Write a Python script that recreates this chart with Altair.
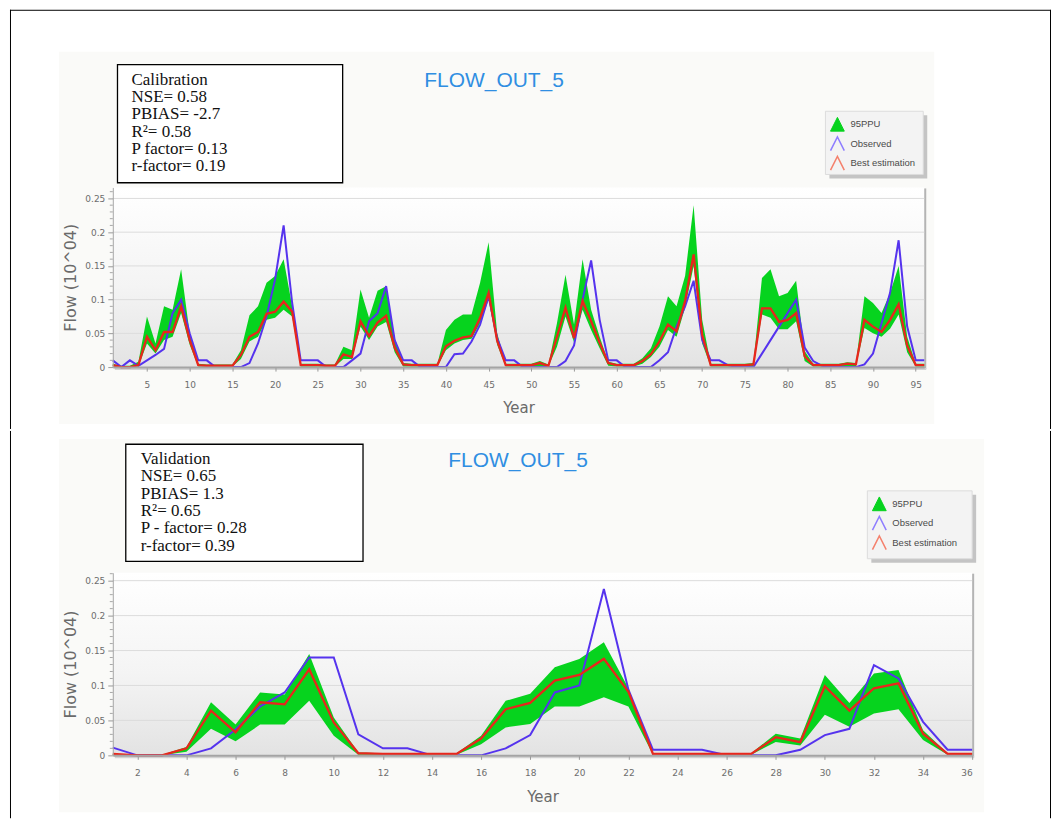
import altair as alt
import pandas as pd

# ---------------- data ----------------
cal_year = list(range(1, 97))
cal_observed = [0.01, 0.0, 0.01, 0.002, 0.01, 0.018, 0.027, 0.08, 0.1, 0.05,
                0.01, 0.01, 0.0, 0.0, 0.0, 0.0, 0.006, 0.035, 0.075, 0.13,
                0.21, 0.095, 0.01, 0.01, 0.01, 0.0, 0.0, 0.0, 0.01, 0.02,
                0.068, 0.08, 0.12, 0.04, 0.01, 0.01, 0.0, 0.0, 0.0, 0.0,
                0.019, 0.02, 0.038, 0.063, 0.105, 0.043, 0.01, 0.01, 0.0, 0.0,
                0.0, 0.0, 0.0, 0.009, 0.032, 0.1, 0.158, 0.07, 0.01, 0.01,
                0.0, 0.0, 0.0, 0.0, 0.01, 0.022, 0.06, 0.09, 0.128, 0.04,
                0.01, 0.01, 0.003, 0.0, 0.0, 0.0, 0.02, 0.04, 0.06, 0.08,
                0.1, 0.029, 0.009, 0.002, 0.0, 0.0, 0.0, 0.0, 0.004, 0.02,
                0.065, 0.11, 0.188, 0.06, 0.01, 0.01]
cal_best = [0.003, 0.0, 0.0, 0.003, 0.045, 0.025, 0.052, 0.052, 0.09, 0.04,
            0.003, 0.002, 0.002, 0.002, 0.002, 0.018, 0.045, 0.052, 0.079, 0.082,
            0.097, 0.082, 0.003, 0.003, 0.003, 0.002, 0.002, 0.019, 0.015, 0.068,
            0.046, 0.066, 0.076, 0.029, 0.004, 0.003, 0.003, 0.003, 0.003, 0.031,
            0.039, 0.044, 0.046, 0.073, 0.11, 0.039, 0.003, 0.003, 0.003, 0.003,
            0.006, 0.002, 0.045, 0.088, 0.043, 0.098, 0.068, 0.036, 0.006, 0.003,
            0.003, 0.003, 0.009, 0.019, 0.038, 0.063, 0.053, 0.098, 0.167, 0.048,
            0.003, 0.003, 0.003, 0.003, 0.003, 0.004, 0.087, 0.087, 0.067, 0.07,
            0.08, 0.016, 0.003, 0.003, 0.003, 0.003, 0.005, 0.004, 0.07, 0.06,
            0.052, 0.07, 0.093, 0.032, 0.003, 0.003]
cal_upper = [0.005, 0.002, 0.002, 0.008, 0.075, 0.035, 0.09, 0.085, 0.145, 0.05,
             0.005, 0.004, 0.004, 0.004, 0.004, 0.025, 0.077, 0.09, 0.125, 0.135,
             0.16, 0.09, 0.005, 0.005, 0.005, 0.004, 0.004, 0.03, 0.025, 0.115,
             0.073, 0.113, 0.12, 0.043, 0.006, 0.005, 0.005, 0.005, 0.005, 0.055,
             0.07, 0.078, 0.078, 0.125, 0.185, 0.05, 0.005, 0.005, 0.005, 0.005,
             0.009, 0.004, 0.065, 0.137, 0.063, 0.16, 0.085, 0.045, 0.008, 0.005,
             0.005, 0.005, 0.013, 0.028, 0.06, 0.105, 0.09, 0.135, 0.24, 0.07,
             0.005, 0.005, 0.005, 0.005, 0.005, 0.006, 0.132, 0.145, 0.105, 0.11,
             0.128, 0.024, 0.005, 0.005, 0.005, 0.005, 0.007, 0.006, 0.105, 0.095,
             0.08, 0.11, 0.15, 0.045, 0.005, 0.005]
cal_lower = [0.001, 0.0, 0.0, 0.001, 0.035, 0.02, 0.04, 0.045, 0.08, 0.033,
             0.001, 0.001, 0.001, 0.001, 0.001, 0.012, 0.038, 0.045, 0.07, 0.073,
             0.085, 0.075, 0.001, 0.001, 0.001, 0.001, 0.001, 0.012, 0.012, 0.06,
             0.04, 0.06, 0.067, 0.022, 0.001, 0.001, 0.001, 0.001, 0.001, 0.025,
             0.035, 0.04, 0.042, 0.065, 0.1, 0.033, 0.001, 0.001, 0.001, 0.001,
             0.001, 0.001, 0.03, 0.075, 0.037, 0.085, 0.055, 0.028, 0.002, 0.001,
             0.001, 0.001, 0.005, 0.015, 0.03, 0.055, 0.045, 0.088, 0.15, 0.035,
             0.001, 0.001, 0.001, 0.001, 0.001, 0.001, 0.078, 0.073, 0.056, 0.056,
             0.068, 0.009, 0.001, 0.001, 0.001, 0.001, 0.001, 0.001, 0.058, 0.05,
             0.045, 0.057, 0.078, 0.022, 0.001, 0.001]

val_year = list(range(1, 37))
val_observed = [0.011, 0.0, 0.0, 0.0, 0.01, 0.037, 0.07, 0.09, 0.14, 0.14,
                0.03, 0.01, 0.01, 0.0, 0.0, 0.0, 0.01, 0.029, 0.09, 0.1,
                0.238, 0.094, 0.008, 0.008, 0.008, 0.0, 0.0, 0.0, 0.008, 0.029,
                0.038, 0.129, 0.11, 0.048, 0.008, 0.008]
val_best = [0.002, 0.0, 0.0, 0.01, 0.064, 0.033, 0.076, 0.073, 0.123, 0.047,
            0.003, 0.002, 0.002, 0.002, 0.002, 0.024, 0.066, 0.075, 0.107, 0.115,
            0.138, 0.091, 0.002, 0.002, 0.002, 0.002, 0.002, 0.026, 0.019, 0.099,
            0.064, 0.096, 0.103, 0.031, 0.002, 0.002]
val_upper = [0.002, 0.001, 0.001, 0.012, 0.076, 0.044, 0.09, 0.087, 0.145, 0.054,
             0.004, 0.003, 0.003, 0.003, 0.003, 0.028, 0.078, 0.088, 0.126, 0.138,
             0.162, 0.096, 0.003, 0.003, 0.003, 0.003, 0.003, 0.031, 0.024, 0.115,
             0.075, 0.117, 0.122, 0.036, 0.003, 0.003]
val_lower = [0.0, 0.0, 0.0, 0.005, 0.038, 0.02, 0.044, 0.044, 0.078, 0.028,
             0.001, 0.001, 0.001, 0.001, 0.001, 0.016, 0.04, 0.045, 0.07, 0.07,
             0.083, 0.07, 0.001, 0.001, 0.001, 0.001, 0.001, 0.019, 0.014, 0.058,
             0.041, 0.06, 0.066, 0.022, 0.001, 0.001]

cal_stats = ["Calibration", "NSE= 0.58", "PBIAS= -2.7", "R\u00b2= 0.58",
             "P factor= 0.13", "r-factor= 0.19"]
val_stats = ["Validation", "NSE= 0.65", "PBIAS= 1.3", "R\u00b2= 0.65",
             "P - factor= 0.28", "r-factor= 0.39"]
chart_title = "FLOW_OUT_5"
legend_labels = ["95PPU", "Observed", "Best estimation"]
cal_xticks = list(range(5, 96, 5))
val_xticks = list(range(2, 37, 2))
y_ticks = [0, 0.05, 0.1, 0.15, 0.2, 0.25]
y_minor = [round(i * 0.01, 2) for i in range(1, 27) if i % 5 != 0]

GREEN = "#06d31e"
BLUE = "#5533ee"
RED = "#e8261c"

one = pd.DataFrame({"k": [0]})


def panel(years, obs, best, lo, up, W, H, ymax, xticks, stats, L):
    df = pd.DataFrame({"year": years, "obs": obs, "best": best,
                       "lower": lo, "upper": up})
    minor = pd.DataFrame({"m": y_minor})
    grid = pd.DataFrame({"g": y_ticks[1:]})

    xs = alt.Scale(domain=[years[0], years[-1]], nice=False, zero=False)
    ys = alt.Scale(domain=[0, ymax], nice=False, zero=True)
    xaxis = alt.Axis(values=xticks, title="Year", grid=False, zindex=1, labelFontSize=9,
                     labelColor="#6d6d6d", labelFont="DejaVu Sans", tickColor="#9a9a9a",
                     tickSize=4, labelPadding=9, domainColor="#a4a4a4", domainWidth=2,
                     titleFont="DejaVu Sans", titleFontSize=15, titleFontWeight="normal",
                     titleColor="#6a6a6a", titleY=L["xtitle_y"], titleBaseline="middle")
    yaxis = alt.Axis(values=y_ticks, format=".2~f", title="Flow (10^04)", grid=False,
                     zindex=1, labelFontSize=9, labelColor="#6d6d6d",
                     labelFont="DejaVu Sans", tickColor="#9a9a9a", tickSize=5,
                     labelPadding=3, domainColor="#a8a8a8",
                     titleFont="DejaVu Sans", titleFontSize=16, titleFontWeight="normal",
                     titleColor="#6a6a6a", titleX=-42, titleY=H / 2, titleAngle=270,
                     titleAlign="center", titleBaseline="middle")

    def X():
        return alt.X("year:Q", scale=xs, axis=xaxis)

    def Y(f):
        return alt.Y(f, type="quantitative", scale=ys, axis=yaxis)

    base1 = alt.Chart(one)
    layers = []
    # bounds / page background
    layers.append(base1.mark_rect(fill="white").encode(
        x=alt.value(-104), x2=alt.value(940), y=alt.value(L["top"]), y2=alt.value(L["bottom"])))
    # faint panel background
    p = L["panel"]
    layers.append(base1.mark_rect(fill="#fafaf8").encode(
        x=alt.value(p[0]), x2=alt.value(p[2]), y=alt.value(p[1]), y2=alt.value(p[3])))
    # outer frame lines
    if L["frame_top"]:
        layers.append(base1.mark_rule(color="black", strokeWidth=1).encode(
            x=alt.value(-103), x2=alt.value(939.5), y=alt.value(L["top"] + 0.5)))
    fy = L["top"] if not L["frame_top"] else L["top"]
    layers.append(base1.mark_rule(color="black", strokeWidth=1).encode(
        x=alt.value(-102.5), y=alt.value(fy), y2=alt.value(L["bottom"])))
    layers.append(base1.mark_rule(color="black", strokeWidth=1).encode(
        x=alt.value(939.5), y=alt.value(fy), y2=alt.value(L["bottom"])))
    # plot gradient
    grad = alt.Gradient(gradient="linear", x1=0, x2=0, y1=0, y2=1, stops=[
        alt.GradientStop(color="#ffffff", offset=0),
        alt.GradientStop(color="#f4f4f4", offset=0.55),
        alt.GradientStop(color="#e3e3e3", offset=1)])
    layers.append(base1.mark_rect(fill=grad).encode(
        x=alt.value(0), x2=alt.value(W), y=alt.value(0), y2=alt.value(H)))
    # shadow of the plot frame
    layers.append(base1.mark_rule(color="#b4b4b4", strokeWidth=2).encode(
        x=alt.value(W + 1), y=alt.value(1), y2=alt.value(H + 2)))
    layers.append(base1.mark_rule(color="#d2d2d2", strokeWidth=2).encode(
        x=alt.value(2), x2=alt.value(W + 2), y=alt.value(H + 2)))
    # grid lines
    layers.append(alt.Chart(grid).mark_rule(color="#dcdcdc", strokeWidth=1).encode(
        x=alt.value(0), x2=alt.value(W), y=Y("g")))

    # data
    data = alt.Chart(df)
    layers.append(data.mark_area(color=GREEN, opacity=1).encode(
        x=X(), y=Y("lower"), y2="upper:Q"))
    layers.append(data.mark_line(color=BLUE, strokeWidth=2).encode(x=X(), y=Y("obs")))
    layers.append(data.mark_line(color=RED, strokeWidth=2.3).encode(x=X(), y=Y("best")))
    layers.append(alt.Chart(minor).mark_rule(color="#a8a8a8").encode(
        x=alt.value(-3), x2=alt.value(0), y=Y("m")))

    # statistics box
    bx = L["box"]
    layers.append(base1.mark_rect(fill="white", stroke="black", strokeWidth=1.3).encode(
        x=alt.value(bx[0]), x2=alt.value(bx[2]), y=alt.value(bx[1]), y2=alt.value(bx[3])))
    layers.append(base1.mark_text(align="left", baseline="top", font="Liberation Serif",
                                  fontSize=17, lineBreak="\n", lineHeight=17.4,
                                  color="#111").encode(
        x=alt.value(L["text"][0]), y=alt.value(L["text"][1]), text=alt.value("\n".join(stats))))
    # title
    layers.append(base1.mark_text(align="center", baseline="middle", font="Liberation Sans",
                                  fontSize=21, color="#2f8ee2").encode(
        x=alt.value(L["title"][0]), y=alt.value(L["title"][1]), text=alt.value(chart_title)))
    # legend
    lg = L["legend"]
    layers.append(base1.mark_rect(fill="#c4c4c4").encode(
        x=alt.value(lg[0] + 4), x2=alt.value(lg[2] + 4), y=alt.value(lg[1] + 4), y2=alt.value(lg[3] + 4)))
    layers.append(base1.mark_rect(fill="#f3f3f3", stroke="#dcdcdc").encode(
        x=alt.value(lg[0]), x2=alt.value(lg[2]), y=alt.value(lg[1]), y2=alt.value(lg[3])))
    sx = lg[0] + 12
    rows = [lg[1] + 13, lg[1] + 32.5, lg[1] + 52]
    layers.append(base1.mark_point(shape="M-1,1L0,-1L1,1Z", filled=True, fill=GREEN,
                                   stroke=GREEN, strokeWidth=1, size=190, opacity=1).encode(
        x=alt.value(sx), y=alt.value(rows[0])))
    layers.append(base1.mark_point(shape="M-1,1L0,-1L1,1", filled=False, stroke="#8e7dff",
                                   strokeWidth=1.5, size=190, opacity=1).encode(
        x=alt.value(sx), y=alt.value(rows[1])))
    layers.append(base1.mark_point(shape="M-1,1L0,-1L1,1", filled=False, stroke="#f4806c",
                                   strokeWidth=1.5, size=190, opacity=1).encode(
        x=alt.value(sx), y=alt.value(rows[2])))
    for lab, ry in zip(legend_labels, rows):
        layers.append(base1.mark_text(align="left", baseline="middle", font="Liberation Sans",
                                      fontSize=9.5, color="#4a4a4a").encode(
            x=alt.value(sx + 13), y=alt.value(ry), text=alt.value(lab)))

    return alt.layer(*layers).properties(width=W, height=H)


top = panel(cal_year, cal_observed, cal_best, cal_lower, cal_upper,
            813, 180, 0.2663, cal_xticks, cal_stats,
            dict(top=-178, bottom=242, frame_top=True, xtitle_y=40,
                 panel=(-54, -136, 823, 237),
                 box=(4.7, -123, 230.3, -4.7), text=(18.7, -116),
                 title=(382, -106.3), legend=(714, -76.3, 812, -13)))
bottom = panel(val_year, val_observed, val_best, val_lower, val_upper,
               861, 183, 0.2614, val_xticks, val_stats,
               dict(top=-142, bottom=246, frame_top=False, xtitle_y=41,
                    panel=(-54, -134, 873, 240),
                    box=(13, -128.7, 250.7, -11.3), text=(28, -122),
                    title=(406, -112), legend=(756, -82, 861, -14)))

chart = alt.vconcat(top, bottom, spacing=0).properties(padding=0, background="white").configure_view(
    stroke="#cdcdcd")

chart.save("out.html", embed_options={"renderer": "svg", "actions": False})
